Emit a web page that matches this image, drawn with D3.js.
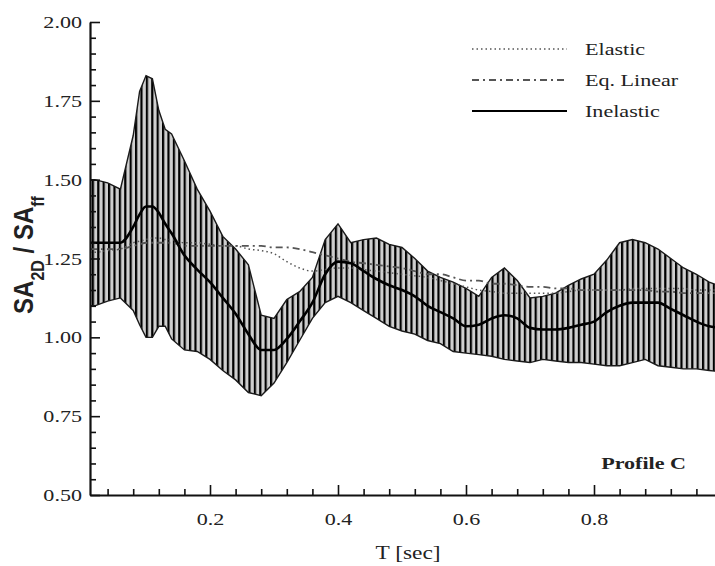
<!DOCTYPE html>
<html>
<head>
<meta charset="utf-8">
<script src="https://cdn.jsdelivr.net/npm/d3@7"></script>
<style>
  body { margin: 0; background: #fff; }
  svg text { font-family: "Liberation Serif", "Times New Roman", serif; fill: #222; }
</style>
</head>
<body>
<div id="chart"></div>
<script>
// period axis (sec)
const periods = [0.0125, 0.02, 0.04, 0.06, 0.08, 0.09, 0.10, 0.11, 0.12, 0.13,
  0.14, 0.16, 0.18, 0.20, 0.22, 0.24, 0.26, 0.28, 0.30, 0.32, 0.34, 0.36, 0.38, 0.40,
  0.42, 0.44, 0.46, 0.48, 0.50, 0.52, 0.54, 0.56, 0.58, 0.60, 0.62, 0.64, 0.66, 0.68,
  0.70, 0.72, 0.74, 0.76, 0.78, 0.80, 0.82, 0.84, 0.86, 0.88, 0.90, 0.92, 0.94, 0.96,
  0.98, 1.00];

// inelastic band (upper / lower) and mean
const inelasticUpper = [1.50, 1.50, 1.49, 1.47, 1.64, 1.78, 1.83, 1.82, 1.72, 1.66,
  1.645, 1.56, 1.47, 1.40, 1.32, 1.28, 1.23, 1.07, 1.06, 1.12, 1.145, 1.19, 1.31, 1.36,
  1.30, 1.31, 1.315, 1.295, 1.285, 1.25, 1.21, 1.19, 1.175, 1.155, 1.13, 1.19, 1.22, 1.18,
  1.125, 1.13, 1.14, 1.165, 1.185, 1.20, 1.245, 1.30, 1.31, 1.30, 1.28, 1.25, 1.22, 1.20,
  1.175, 1.16];
const inelasticLower = [1.10, 1.10, 1.115, 1.125, 1.085, 1.04, 1.00, 1.00, 1.035, 1.035,
  0.995, 0.96, 0.955, 0.93, 0.895, 0.865, 0.825, 0.815, 0.855, 0.92, 0.99, 1.06, 1.11, 1.13,
  1.11, 1.085, 1.06, 1.035, 1.02, 1.01, 0.99, 0.98, 0.955, 0.95, 0.945, 0.94, 0.93, 0.925,
  0.92, 0.93, 0.925, 0.92, 0.92, 0.915, 0.91, 0.91, 0.92, 0.93, 0.91, 0.905, 0.90, 0.90,
  0.895, 0.89];
const inelasticMean = [1.30, 1.30, 1.30, 1.30, 1.35, 1.39, 1.415, 1.415, 1.395, 1.36,
  1.33, 1.26, 1.215, 1.175, 1.125, 1.075, 1.01, 0.96, 0.96, 0.995, 1.05, 1.11, 1.20, 1.24,
  1.235, 1.21, 1.185, 1.165, 1.15, 1.13, 1.10, 1.08, 1.06, 1.035, 1.04, 1.06, 1.07, 1.06,
  1.03, 1.025, 1.025, 1.03, 1.04, 1.05, 1.08, 1.10, 1.11, 1.11, 1.11, 1.09, 1.07, 1.05,
  1.035, 1.03];
const elastic = [1.27, 1.27, 1.275, 1.28, 1.30, 1.305, 1.31, 1.315, 1.315, 1.31,
  1.31, 1.30, 1.30, 1.295, 1.29, 1.29, 1.28, 1.275, 1.265, 1.24, 1.22, 1.21, 1.215, 1.22,
  1.22, 1.215, 1.21, 1.205, 1.20, 1.195, 1.19, 1.18, 1.17, 1.16, 1.15, 1.145, 1.14, 1.14,
  1.14, 1.14, 1.14, 1.145, 1.15, 1.15, 1.15, 1.15, 1.155, 1.155, 1.155, 1.155, 1.155, 1.15,
  1.15, 1.15];
const eqLinear = [1.28, 1.28, 1.28, 1.28, 1.29, 1.295, 1.30, 1.30, 1.30, 1.30,
  1.30, 1.29, 1.29, 1.29, 1.29, 1.29, 1.29, 1.29, 1.285, 1.285, 1.28, 1.27, 1.26, 1.25,
  1.24, 1.235, 1.23, 1.225, 1.22, 1.21, 1.20, 1.20, 1.19, 1.18, 1.18, 1.17, 1.17, 1.165,
  1.16, 1.16, 1.155, 1.155, 1.15, 1.15, 1.15, 1.15, 1.15, 1.15, 1.145, 1.145, 1.14, 1.14,
  1.14, 1.14];

const xMajor = [0.2, 0.4, 0.6, 0.8];
const yMajor = [0.50, 0.75, 1.00, 1.25, 1.50, 1.75, 2.00];
const legendNames = ["Elastic", "Eq. Linear", "Inelastic"];

const width = 715, height = 566;
const stretch = 1.3; // scanned figure is wider than tall

const svg = d3.select("#chart")
  .append("svg")
  .attr("width", width)
  .attr("height", height);

const x = d3.scaleLinear().domain([0.0125, 1.0]).range([90, 722]);
const y = d3.scaleLinear().domain([0.5, 2.0]).range([495, 22]);

// vertical hatching for the scatter band
const defs = svg.append("defs");
const pat = defs.append("pattern")
  .attr("id", "hatch")
  .attr("patternUnits", "userSpaceOnUse")
  .attr("width", 5.4)
  .attr("height", 10);
pat.append("rect").attr("width", 5.4).attr("height", 10).attr("fill", "#cfcfcf");
pat.append("rect").attr("width", 2.2).attr("height", 10).attr("fill", "#000");

const rows = periods.map((t, i) => ({
  t: t, up: inelasticUpper[i], lo: inelasticLower[i], mean: inelasticMean[i],
  el: elastic[i], eq: eqLinear[i]
}));

svg.append("path")
  .datum(rows)
  .attr("fill", "url(#hatch)")
  .attr("d", d3.area().x(d => x(d.t)).y0(d => y(d.lo)).y1(d => y(d.up)));

// band edges
["up", "lo"].forEach(k => {
  svg.append("path")
    .datum(rows)
    .attr("fill", "none")
    .attr("stroke", "#1a1a1a")
    .attr("stroke-width", 1.4)
    .attr("d", d3.line().x(d => x(d.t)).y(d => y(d[k])));
});

const styles = {
  el: { stroke: "#555", width: 1.5, dash: "1.5,3" },
  eq: { stroke: "#555", width: 1.8, dash: "7,4,2,4" },
  mean: { stroke: "#000", width: 2.6, dash: null }
};

["el", "eq", "mean"].forEach(k => {
  svg.append("path")
    .datum(rows)
    .attr("fill", "none")
    .attr("stroke", styles[k].stroke)
    .attr("stroke-width", styles[k].width)
    .attr("stroke-dasharray", styles[k].dash)
    .attr("d", d3.line().curve(d3.curveMonotoneX).x(d => x(d.t)).y(d => y(d[k])));
});

// Add axes (ticks pointing inward)
const xMinor = d3.range(1, 25).map(i => i * 0.04).filter(v => Math.abs(v / 0.2 - Math.round(v / 0.2)) > 1e-6);
const yMinor = d3.range(10, 40).map(i => i * 0.05).filter(v => Math.abs(v / 0.25 - Math.round(v / 0.25)) > 1e-6);

svg.append("g")
  .attr("transform", "translate(0,495)")
  .call(d3.axisBottom(x).tickValues(xMinor).tickSizeInner(-6).tickSizeOuter(0).tickFormat(""))
  .call(g => g.select(".domain").remove());

const xAxis = svg.append("g")
  .attr("transform", "translate(0,495)")
  .call(d3.axisBottom(x).tickValues(xMajor).tickSizeInner(-10).tickSizeOuter(0)
    .tickPadding(0).tickFormat(d3.format(".1f")));

svg.append("g")
  .attr("transform", "translate(90,0)")
  .call(d3.axisLeft(y).tickValues(yMinor).tickSizeInner(-6).tickSizeOuter(0).tickFormat(""))
  .call(g => g.select(".domain").remove());

const yAxis = svg.append("g")
  .attr("transform", "translate(90,0)")
  .call(d3.axisLeft(y).tickValues(yMajor).tickSizeInner(-10).tickSizeOuter(0)
    .tickPadding(0).tickFormat(d3.format(".2f")));

svg.selectAll(".tick line").attr("stroke", "#111").attr("stroke-width", 1.6);
svg.selectAll(".domain").attr("stroke", "#111").attr("stroke-width", 2.2);

xAxis.selectAll("text")
  .attr("y", 0).attr("dy", 0)
  .attr("transform", `translate(0,30) scale(${stretch},1)`)
  .style("font-size", "17px")
  .style("font-family", "Liberation Serif");

yAxis.selectAll("text")
  .attr("x", 0).attr("dy", "0.33em")
  .attr("transform", `translate(-8,0) scale(${stretch},1)`)
  .style("font-size", "17px")
  .style("font-family", "Liberation Serif");

// Add labels
svg.append("text")
  .attr("transform", `translate(408,559) scale(${stretch},1)`)
  .style("text-anchor", "middle")
  .style("font-size", "18px")
  .text("T [sec]");

const yl = svg.append("text")
  .attr("transform", `translate(33,255) scale(1.15,1) rotate(-90)`)
  .style("text-anchor", "middle")
  .style("font-family", "Liberation Sans")
  .style("font-weight", "bold")
  .style("font-size", "24px");
yl.append("tspan").text("SA");
yl.append("tspan").attr("baseline-shift", "sub").style("font-size", "16px").text("2D");
yl.append("tspan").text(" / SA");
yl.append("tspan").attr("baseline-shift", "sub").style("font-size", "16px").text("ff");

svg.append("text")
  .attr("transform", `translate(686,469) scale(${stretch},1)`)
  .style("text-anchor", "end")
  .style("font-weight", "bold")
  .style("font-size", "17px")
  .text("Profile C");

// legend
const legendKeys = ["el", "eq", "mean"];
const legendY = [49, 80, 111];
legendNames.forEach((name, i) => {
  const st = styles[legendKeys[i]];
  svg.append("line")
    .attr("x1", 472).attr("x2", 567)
    .attr("y1", legendY[i]).attr("y2", legendY[i])
    .attr("stroke", st.stroke)
    .attr("stroke-width", legendKeys[i] === "mean" ? 2 : st.width)
    .attr("stroke-dasharray", st.dash);
  svg.append("text")
    .attr("transform", `translate(585,${legendY[i] + 6}) scale(${stretch},1)`)
    .style("font-size", "17px")
    .text(name);
});
</script>
</body>
</html>
